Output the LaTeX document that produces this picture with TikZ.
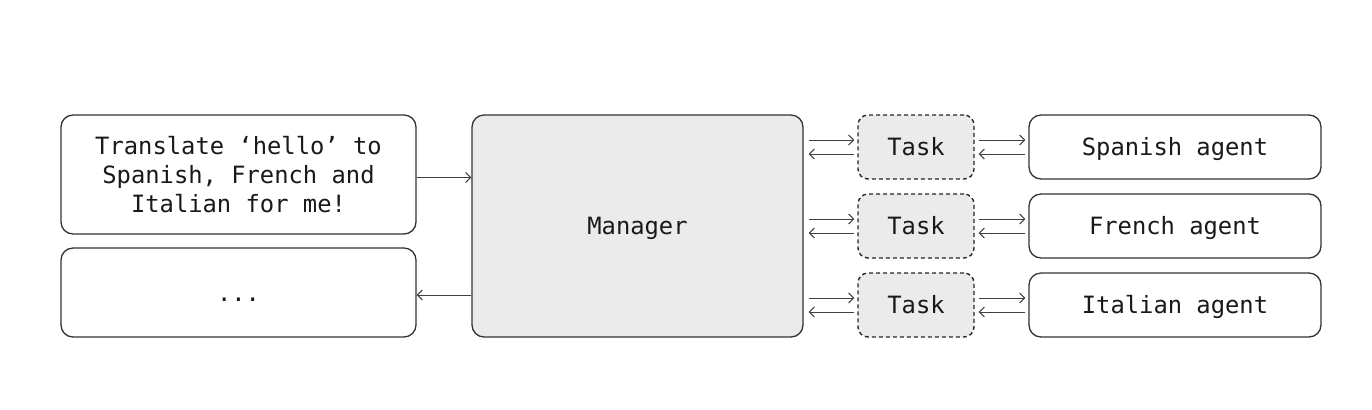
\documentclass[tikz,border=0pt]{standalone}
\usepackage{fontspec}
\setmonofont{DejaVu Sans Mono}
\usetikzlibrary{arrows.meta}
\usetikzlibrary{calc}

\begin{document}
\begin{tikzpicture}[
      x=0.5pt, y=-0.5pt,
      every node/.style={font=\ttfamily\fontsize{11.9}{14.5}\selectfont, text=black!90},
      box/.style={draw=black!80, line width=0.65pt, rounded corners=6pt, inner sep=0pt},
      line_box/.style={text height=10pt, text depth=1.5pt},
      msg_box/.style={box, fill=white, minimum width=177.5pt, align=center},
      mgr_box/.style={box, line_box, fill=black!8, minimum width=165.5pt, minimum height=111pt},
      task_box/.style={box, line_box, dashed, dash pattern=on 2pt off 1.5pt, fill=black!8,
        draw=black!85, line width=0.7pt, rounded corners=5pt, minimum width=58pt, minimum height=32pt},
      agent_box/.style={box, line_box, fill=white, minimum width=146pt, minimum height=32pt},
      trans/.style={draw=black!75, line width=0.5pt,
        -{Straight Barb[length=2.5pt,width=5pt]}},
    ]
    \useasboundingbox (0,0) rectangle (1372,409);
    % Draw the messages and the manager.
    \node[msg_box, minimum height=59.5pt] (in_msg) at (238.5,174.5)
        {Translate ‘hello’ to\\Spanish, French and\\Italian for me!};
    \node[msg_box, line_box, minimum height=44.5pt] (out_msg) at (238.5,292.5) {...};
    \node[mgr_box] (mgr) at (637.5,226) {Manager};

    % Draw the tasks and the agents.
    \node[task_box] (T1) at (916,147) {Task};
    \node[task_box] (T2) at (916,226) {Task};
    \node[task_box] (T3) at (916,305) {Task};
    \node[agent_box] (A1) at (1175,147) {Spanish agent};
    \node[agent_box] (A2) at (1175,226) {French agent};
    \node[agent_box] (A3) at (1175,305) {Italian agent};

    % Draw the request and the reply.
    \draw[trans] ([yshift=-1.5pt]in_msg.east) -- ([yshift=-1.5pt]in_msg.east -| mgr.west);
    \draw[trans] ([yshift=-1.25pt]out_msg.east -| mgr.west) -- ([yshift=-1.25pt]out_msg.east);

    % Draw the transitions manager <-> task <-> agent.
    \draw[trans, shorten <=2.5pt, shorten >=1.5pt] ([yshift=3.5pt]T1.west -| mgr.east) -- ([yshift=3.5pt]T1.west);
    \draw[trans, shorten <=1.5pt, shorten >=2.5pt] ([yshift=-3.5pt]T1.west) -- ([yshift=-3.5pt]T1.west -| mgr.east);
    \draw[trans, shorten <=2.5pt, shorten >=1.5pt] ([yshift=3.5pt]T2.west -| mgr.east) -- ([yshift=3.5pt]T2.west);
    \draw[trans, shorten <=1.5pt, shorten >=2.5pt] ([yshift=-3.5pt]T2.west) -- ([yshift=-3.5pt]T2.west -| mgr.east);
    \draw[trans, shorten <=2.5pt, shorten >=1.5pt] ([yshift=3.5pt]T3.west -| mgr.east) -- ([yshift=3.5pt]T3.west);
    \draw[trans, shorten <=1.5pt, shorten >=2.5pt] ([yshift=-3.5pt]T3.west) -- ([yshift=-3.5pt]T3.west -| mgr.east);

    \draw[trans, shorten <=2pt, shorten >=1.5pt] ([yshift=3.5pt]T1.east) -- ([yshift=3.5pt]A1.west);
    \draw[trans, shorten <=1.5pt, shorten >=2pt] ([yshift=-3.5pt]A1.west) -- ([yshift=-3.5pt]T1.east);
    \draw[trans, shorten <=2pt, shorten >=1.5pt] ([yshift=3.5pt]T2.east) -- ([yshift=3.5pt]A2.west);
    \draw[trans, shorten <=1.5pt, shorten >=2pt] ([yshift=-3.5pt]A2.west) -- ([yshift=-3.5pt]T2.east);
    \draw[trans, shorten <=2pt, shorten >=1.5pt] ([yshift=3.5pt]T3.east) -- ([yshift=3.5pt]A3.west);
    \draw[trans, shorten <=1.5pt, shorten >=2pt] ([yshift=-3.5pt]A3.west) -- ([yshift=-3.5pt]T3.east);
\end{tikzpicture}
\end{document}
